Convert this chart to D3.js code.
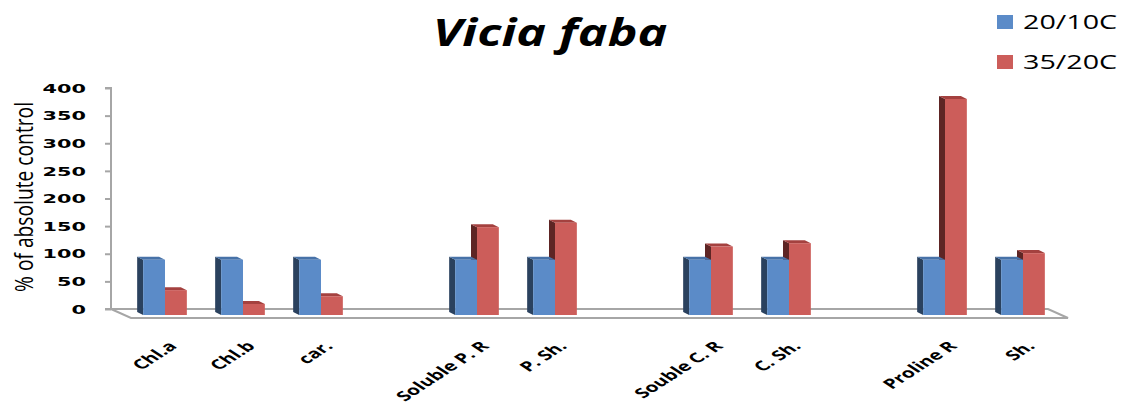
<!DOCTYPE html>
<html>
<head>
<meta charset="utf-8">
<script src="https://cdn.jsdelivr.net/npm/d3@7"></script>
<style>
  body { margin: 0; background: #fff; }
  svg { display: block; }
</style>
</head>
<body>
<svg id="chart" width="1124" height="409"></svg>
<script>
// data ("" = empty slot between groups)
var categories = ["Chl.a", "Chl.b", "car.", "", "Soluble P. R", "P. Sh.", "", "Souble C. R", "C. Sh.", "", "Proline R", "Sh."];
var cool = [100, 100, 100, null, 100, 100, null, 100, 100, null, 100, 100];
var warm = [45, 20, 34, null, 159, 167, null, 124, 130, null, 391, 112];
var seriesNames = ["20/10C", "35/20C"];
var yTicks = [0, 50, 100, 150, 200, 250, 300, 350, 400];

var svg = d3.select("#chart");
var sx = 1.6; // the picture is stretched sideways

var faces = [
  { front: "#5b8bc8", side: "#2a415e", top: "#4772a8" },
  { front: "#cc5d5a", side: "#5e2524", top: "#a4413f" }
];

var x = d3.scaleBand()
  .domain(d3.range(categories.length))
  .range([126, 1062]);
var y = d3.scaleLinear()
  .domain([0, 400])
  .range([309, 88]);

var depthX = -6, depthY = -3; // offset to the back of a bar
var frontDrop = 6;           // front faces sit below the back wall
var barW = x.bandwidth() * 0.28;

// floor
var floor = svg.append("g").attr("fill", "none").attr("stroke", "#a6a6a6").attr("stroke-width", 2);
floor.append("path")
  .attr("fill", "#fff")
  .attr("d", "M" + 111 + "," + y(0) + " L1048," + y(0) + " L1068," + (y(0) + 9) + " L131," + (y(0) + 9) + " Z");

// y axis
var yAxis = svg.append("g").attr("transform", "translate(111,0)")
  .call(d3.axisLeft(y).tickValues(yTicks).tickSize(6).tickFormat(""));
yAxis.select(".domain").attr("stroke", "#a6a6a6").attr("stroke-width", 2).attr("d", "M-6," + y(400) + "H0V" + y(0) + "H-6");
yAxis.selectAll(".tick line").attr("stroke", "#a6a6a6").attr("stroke-width", 2);

svg.append("g").selectAll("text")
  .data(yTicks)
  .enter().append("text")
    .attr("transform", function(d) { return "translate(86," + y(d) + ") scale(" + sx + ",1)"; })
    .attr("dy", "0.36em")
    .attr("text-anchor", "end")
    .style("font-family", "DejaVu Sans")
    .style("font-weight", "bold")
    .style("font-size", "13px")
    .text(function(d) { return d; });

svg.append("text")
  .attr("transform", "translate(33,197) scale(" + 1.45 + ",1) rotate(-90)")
  .attr("text-anchor", "middle")
  .attr("textLength", 190)
  .attr("lengthAdjust", "spacingAndGlyphs")
  .style("font-family", "Open Sans")
  .style("font-size", "18px")
  .text("% of absolute control");

// one 3D box
function drawBar(g, x0, v, c) {
  var yb = y(0) + frontDrop;
  var yt = y(v) + frontDrop;
  var x1 = x0 + barW;
  g.append("path").attr("fill", c.side)
    .attr("d", "M" + x0 + "," + yb + "L" + (x0 + depthX) + "," + (yb + depthY) + "L" + (x0 + depthX) + "," + (yt + depthY) + "L" + x0 + "," + yt + "Z");
  g.append("path").attr("fill", c.top)
    .attr("d", "M" + x0 + "," + yt + "L" + (x0 + depthX) + "," + (yt + depthY) + "L" + (x1 + depthX) + "," + (yt + depthY) + "L" + x1 + "," + yt + "Z");
  g.append("rect").attr("fill", c.front)
    .attr("x", x0).attr("y", yt).attr("width", barW).attr("height", yb - yt);
}

var bars = svg.append("g");
categories.forEach(function(cat, i) {
  if (cool[i] == null) { return; }
  var cx = x(i) + x.bandwidth() / 2;
  // red first so the blue front hides its side
  drawBar(bars, cx, warm[i], faces[1]);
  drawBar(bars, cx - barW, cool[i], faces[0]);
});

// category labels
svg.append("g").selectAll("text")
  .data(categories)
  .enter().append("text")
    .attr("transform", function(d, i) { return "translate(" + (x(i) + x.bandwidth() / 2 + 13) + ",347) scale(" + 1.55 + ",1) rotate(-45)"; })
    .attr("text-anchor", "end")
    .style("font-family", "Open Sans")
    .style("font-weight", "bold")
    .style("font-size", "13.5px")
    .text(function(d) { return d; });

// title
svg.append("text")
  .attr("transform", "translate(550,46) scale(1.32,1)")
  .attr("text-anchor", "middle")
  .style("font-family", "Open Sans")
  .style("font-weight", "bold")
  .style("font-style", "italic")
  .style("font-size", "38px")
  .text("Vicia faba");

// legend
var legend = svg.append("g").selectAll("g")
  .data(seriesNames)
  .enter().append("g")
    .attr("transform", function(d, i) { return "translate(997," + (15 + i * 40) + ")"; });
legend.append("rect")
  .attr("width", 16).attr("height", 14)
  .attr("fill", function(d, i) { return faces[i].front; });
legend.append("text")
  .attr("transform", "translate(26,14) scale(1.47,1)")
  .style("font-family", "Open Sans")
  .style("font-size", "19.5px")
  .text(function(d) { return d; });
</script>
</body>
</html>
